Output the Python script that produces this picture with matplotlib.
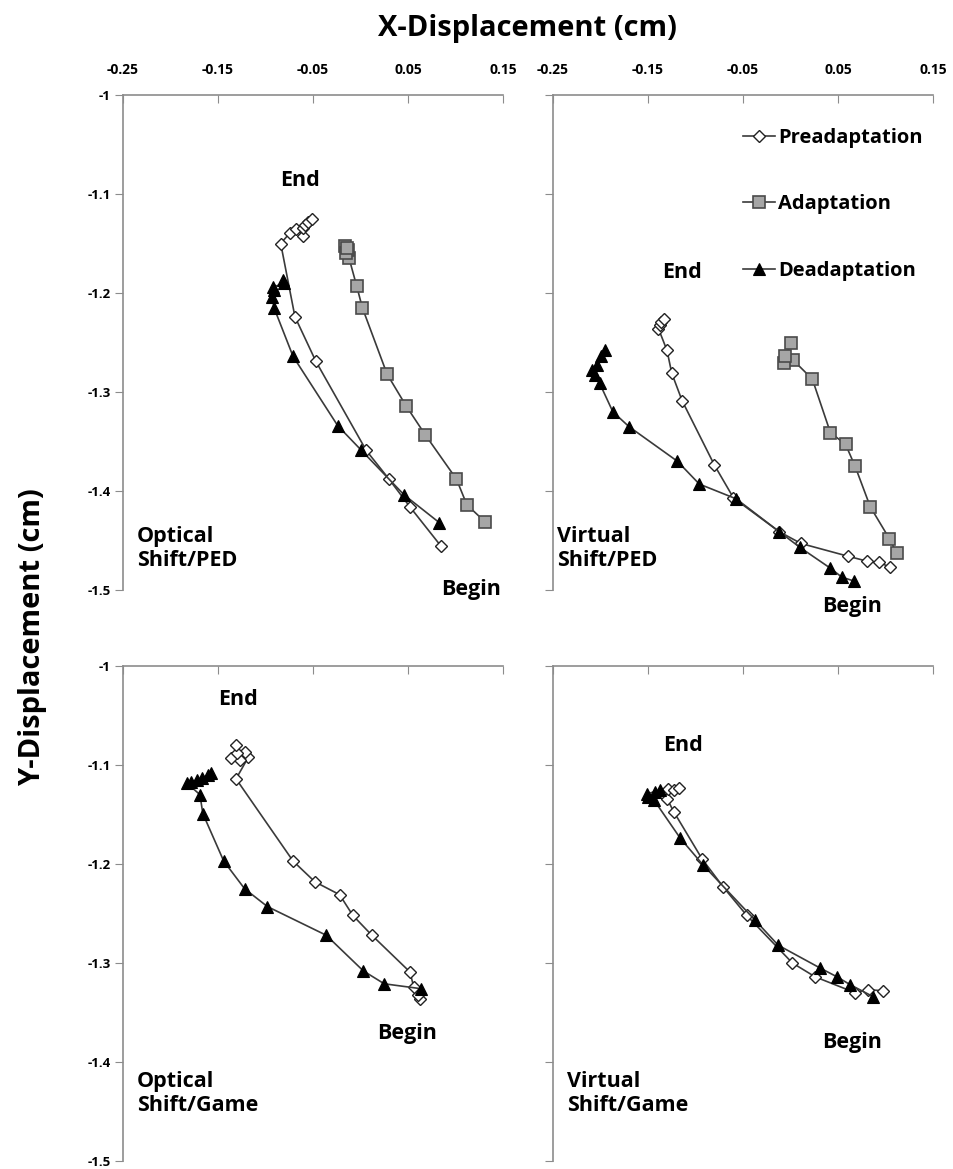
import matplotlib.pyplot as plt

plt.rcParams['font.family'] = ['Open Sans', 'DejaVu Sans']
plt.rcParams['font.weight'] = 'bold'

# ---- data (cm), each path listed from Begin to End ----
# Optical Shift/PED
tl_pre_x = [0.085, 0.052, 0.030, 0.006, -0.047, -0.069, -0.084, -0.074, -0.068, -0.060, -0.061, -0.058, -0.055, -0.051]
tl_pre_y = [-1.456, -1.416, -1.388, -1.359, -1.269, -1.224, -1.150, -1.139, -1.135, -1.142, -1.134, -1.131, -1.128, -1.125]
tl_ada_x = [0.131, 0.112, 0.101, 0.068, 0.048, 0.028, 0.002, -0.004, -0.012, -0.013, -0.016, -0.015, -0.014]
tl_ada_y = [-1.431, -1.414, -1.388, -1.343, -1.314, -1.282, -1.215, -1.193, -1.165, -1.157, -1.153, -1.160, -1.155]
tl_dea_x = [0.083, 0.046, 0.001, -0.024, -0.071, -0.091, -0.093, -0.091, -0.092, -0.080, -0.082]
tl_dea_y = [-1.432, -1.404, -1.359, -1.334, -1.264, -1.215, -1.204, -1.197, -1.194, -1.190, -1.187]

# Virtual Shift/PED
tr_pre_x = [0.105, 0.093, 0.081, 0.061, 0.011, -0.012, -0.060, -0.080, -0.114, -0.125, -0.130, -0.139, -0.137, -0.136, -0.133]
tr_pre_y = [-1.477, -1.472, -1.471, -1.466, -1.453, -1.441, -1.407, -1.374, -1.309, -1.281, -1.258, -1.236, -1.232, -1.229, -1.226]
tr_ada_x = [0.112, 0.104, 0.084, 0.068, 0.058, 0.042, 0.023, 0.003, -0.007, -0.006, 0.001]
tr_ada_y = [-1.463, -1.448, -1.416, -1.375, -1.353, -1.341, -1.287, -1.268, -1.271, -1.264, -1.251]
tr_dea_x = [0.067, 0.054, 0.042, 0.010, -0.012, -0.057, -0.096, -0.119, -0.170, -0.187, -0.201, -0.206, -0.209, -0.204, -0.199, -0.195]
tr_dea_y = [-1.491, -1.487, -1.478, -1.457, -1.441, -1.408, -1.393, -1.370, -1.335, -1.320, -1.291, -1.283, -1.278, -1.273, -1.264, -1.258]

# Optical Shift/Game
bl_pre_x = [0.063, 0.061, 0.056, 0.052, 0.012, -0.008, -0.022, -0.048, -0.071, -0.131, -0.118, -0.127, -0.136, -0.122, -0.130, -0.131]
bl_pre_y = [-1.336, -1.332, -1.324, -1.309, -1.272, -1.252, -1.231, -1.218, -1.197, -1.114, -1.092, -1.095, -1.093, -1.087, -1.088, -1.080]
bl_dea_x = [0.064, 0.025, 0.003, -0.036, -0.098, -0.122, -0.144, -0.166, -0.169, -0.183, -0.178, -0.172, -0.167, -0.160, -0.157]
bl_dea_y = [-1.326, -1.321, -1.308, -1.272, -1.243, -1.225, -1.197, -1.149, -1.130, -1.118, -1.117, -1.115, -1.113, -1.110, -1.108]

# Virtual Shift/Game
br_pre_x = [0.097, 0.082, 0.068, 0.026, 0.002, -0.046, -0.071, -0.093, -0.123, -0.130, -0.129, -0.123, -0.117]
br_pre_y = [-1.328, -1.327, -1.330, -1.314, -1.300, -1.252, -1.223, -1.195, -1.147, -1.134, -1.124, -1.125, -1.123]
br_dea_x = [0.087, 0.063, 0.049, 0.031, -0.013, -0.037, -0.092, -0.116, -0.144, -0.150, -0.151, -0.143, -0.137]
br_dea_y = [-1.334, -1.322, -1.314, -1.305, -1.282, -1.257, -1.201, -1.174, -1.135, -1.132, -1.129, -1.127, -1.125]

x_ticks = [-0.25, -0.15, -0.05, 0.05, 0.15]
y_ticks = [-1.0, -1.1, -1.2, -1.3, -1.4, -1.5]
y_tick_labels = ['-1', '-1.1', '-1.2', '-1.3', '-1.4', '-1.5']

series_names = ['Preadaptation', 'Adaptation', 'Deadaptation']

style = {
    'Preadaptation': dict(marker='D', ms=6.5, mfc='white', mec='#222222', mew=1.0),
    'Adaptation': dict(marker='s', ms=8, mfc='#a6a6a6', mec='#4a4a4a', mew=1.2),
    'Deadaptation': dict(marker='^', ms=8.5, mfc='black', mec='black', mew=0.8),
}

fig = plt.figure(figsize=(9.54, 11.69), dpi=100)
W, H = 954, 1169


def make_ax(left_px, top_px):
    w = 380 / W
    h = 495 / H
    return fig.add_axes([left_px / W, 1 - (top_px + 495) / H, w, h])


ax_tl = make_ax(123, 95)
ax_tr = make_ax(553, 95)
ax_bl = make_ax(123, 666)
ax_br = make_ax(553, 666)

panels = [
    (ax_tl, [(tl_pre_x, tl_pre_y, 'Preadaptation'), (tl_ada_x, tl_ada_y, 'Adaptation'), (tl_dea_x, tl_dea_y, 'Deadaptation')]),
    (ax_tr, [(tr_pre_x, tr_pre_y, 'Preadaptation'), (tr_ada_x, tr_ada_y, 'Adaptation'), (tr_dea_x, tr_dea_y, 'Deadaptation')]),
    (ax_bl, [(bl_pre_x, bl_pre_y, 'Preadaptation'), (bl_dea_x, bl_dea_y, 'Deadaptation')]),
    (ax_br, [(br_pre_x, br_pre_y, 'Preadaptation'), (br_dea_x, br_dea_y, 'Deadaptation')]),
]

handles = {}
for ax, series in panels:
    for xs, ys, name in series:
        ln, = ax.plot(xs, ys, color='#3a3a3a', lw=1.2, label=name, **style[name])
        handles[name] = ln
    ax.set_xlim(-0.25, 0.15)
    ax.set_ylim(-1.5, -1.0)
    ax.set_xticks(x_ticks)
    ax.set_yticks(y_ticks)
    for s in ['bottom', 'right']:
        ax.spines[s].set_visible(False)
    for s in ['top', 'left']:
        ax.spines[s].set_color('#8c8c8c')
        ax.spines[s].set_linewidth(1.2)
    ax.xaxis.tick_top()
    ax.tick_params(axis='x', direction='in', length=6, color='#8c8c8c', pad=13, labelsize=10)
    ax.tick_params(axis='y', direction='out', length=6, color='#8c8c8c', labelsize=9.5, pad=3)
    ax.set_xticklabels([f'{t:.2f}' for t in x_ticks])
    ax.set_yticklabels(y_tick_labels)

# only the top row carries x labels, only the left column y labels
ax_bl.set_xticklabels([])
ax_br.set_xticklabels([])
ax_tr.set_yticklabels([])
ax_br.set_yticklabels([])

txt = dict(fontsize=15.5, fontweight='bold')
ax_tl.text(-0.064, -1.086, 'End', ha='center', va='center', **txt)
ax_tl.text(0.116, -1.499, 'Begin', ha='center', va='center', **txt)
ax_tl.text(-0.235, -1.458, 'Optical\nShift/PED', ha='left', va='center', linespacing=1.15, **txt)

ax_tr.text(-0.114, -1.179, 'End', ha='center', va='center', **txt)
ax_tr.text(0.065, -1.517, 'Begin', ha='center', va='center', clip_on=False, **txt)
ax_tr.text(-0.246, -1.458, 'Virtual\nShift/PED', ha='left', va='center', linespacing=1.15, **txt)

ax_bl.text(-0.129, -1.034, 'End', ha='center', va='center', **txt)
ax_bl.text(0.049, -1.371, 'Begin', ha='center', va='center', **txt)
ax_bl.text(-0.235, -1.432, 'Optical\nShift/Game', ha='left', va='center', linespacing=1.15, **txt)

ax_br.text(-0.113, -1.080, 'End', ha='center', va='center', **txt)
ax_br.text(0.065, -1.380, 'Begin', ha='center', va='center', **txt)
ax_br.text(-0.235, -1.432, 'Virtual\nShift/Game', ha='left', va='center', linespacing=1.15, **txt)

ax_tr.legend([handles[n] for n in series_names], series_names, loc='upper right',
             bbox_to_anchor=(1.02, 0.97), frameon=False, labelspacing=2.3,
             handlelength=1.6, handletextpad=0.15, prop={'size': 14.5, 'weight': 'bold'})

fig.text(0.553, 0.976, 'X-Displacement (cm)', ha='center', va='center', fontsize=21, fontweight='bold')
fig.text(0.034, 0.455, 'Y-Displacement (cm)', ha='center', va='center', rotation=90,
         fontsize=21, fontweight='bold')

fig.savefig('out.png', dpi=100)
